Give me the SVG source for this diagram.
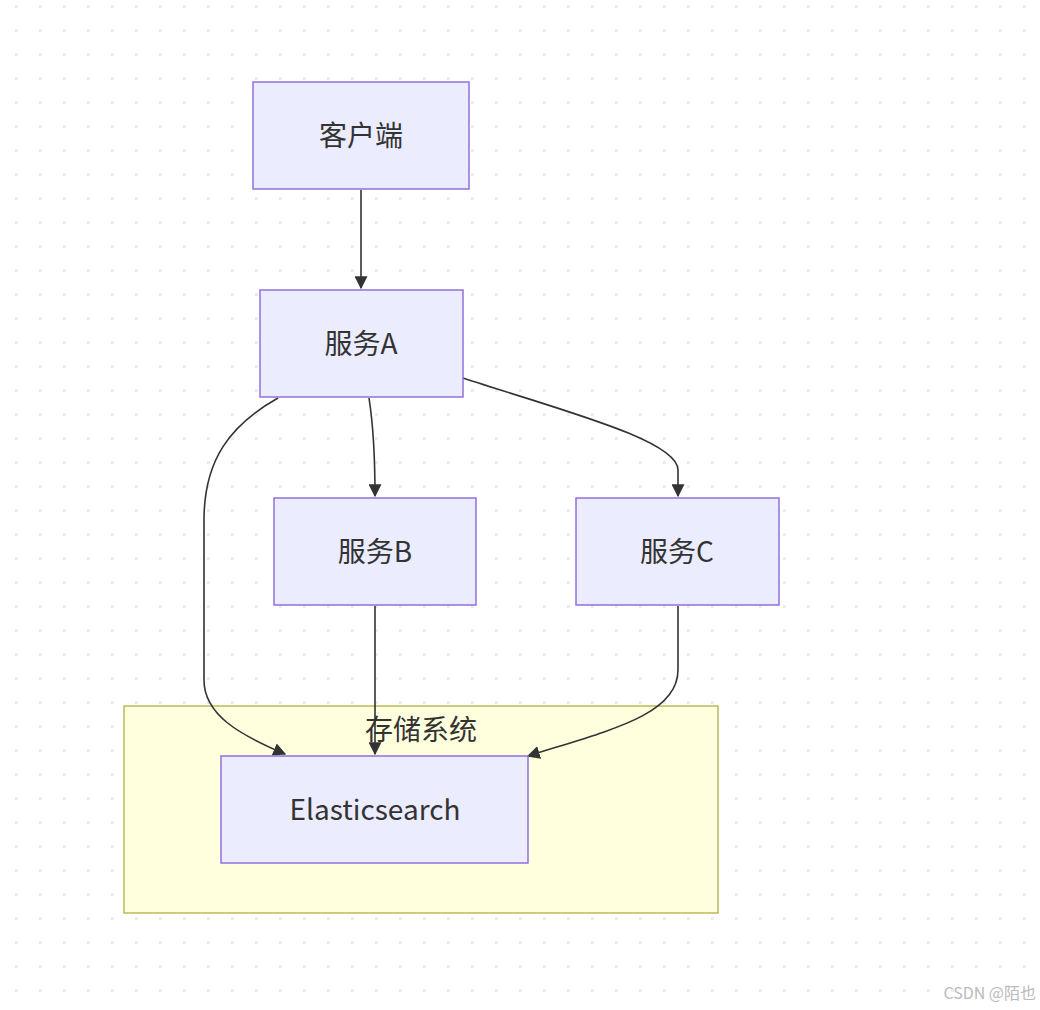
<svg xmlns="http://www.w3.org/2000/svg" width="1040" height="1010" viewBox="0 0 1040 1010">
<style>
.n rect{fill:#ececff;stroke:#9370db;stroke-width:1.5}
.n text{font-family:"Noto Sans CJK SC","Noto Sans",sans-serif;font-size:28px;fill:#333;text-anchor:middle;dominant-baseline:central}
.e path{fill:none;stroke:#333;stroke-width:1.6}
</style>
<defs>
<pattern id="dots" width="24" height="24" patternUnits="userSpaceOnUse" x="4" y="-6"><rect x="11" y="11" width="3" height="3" fill="#ebebf3"/></pattern>
<marker id="ar" viewBox="0 0 10 10" refX="9" refY="5" markerWidth="13" markerHeight="13" markerUnits="userSpaceOnUse" orient="auto"><path d="M0,0L10,5L0,10z" fill="#333"/></marker>
</defs>
<rect width="1040" height="1010" fill="#fff"/>
<rect width="1040" height="1010" fill="url(#dots)"/>
<g id="cluster"><rect x="124" y="706" width="594" height="207" fill="#ffffde" stroke="#aaaa33" stroke-width="1.2"/>
<text x="421" y="728" font-family="Noto Sans CJK SC,sans-serif" font-size="28" fill="#333" text-anchor="middle" dominant-baseline="central">存储系统</text></g>
<g class="e" id="edges">
<path d="M361,190V288" marker-end="url(#ar)"/>
<path d="M369,398C374,430 375,460 375,496" marker-end="url(#ar)"/>
<path d="M463,378C560,410 678,440 678,470V496" marker-end="url(#ar)"/>
<path d="M278,398C230,425 204,460 204,520V680C204,715 240,735 285,754" marker-end="url(#ar)"/>
<path d="M375,606V754" marker-end="url(#ar)"/>
<path d="M678,606V670C678,715 610,730 528,756" marker-end="url(#ar)"/>
</g>
<g class="n" id="client"><rect x="253" y="82" width="216" height="107"/><text x="361" y="134">客户端</text></g>
<g class="n" id="svcA"><rect x="260" y="290" width="203" height="107"/><text x="361" y="342">服务A</text></g>
<g class="n" id="svcB"><rect x="274" y="498" width="202" height="107"/><text x="375" y="550">服务B</text></g>
<g class="n" id="svcC"><rect x="576" y="498" width="203" height="107"/><text x="677" y="550">服务C</text></g>
<g class="n" id="es"><rect x="221" y="756" width="307" height="107"/><text x="375" y="808">Elasticsearch</text></g>
<text x="1036" y="999" font-family="Noto Sans CJK SC,sans-serif" font-size="16" fill="#bbb" text-anchor="end">CSDN @陌也</text>
</svg>
